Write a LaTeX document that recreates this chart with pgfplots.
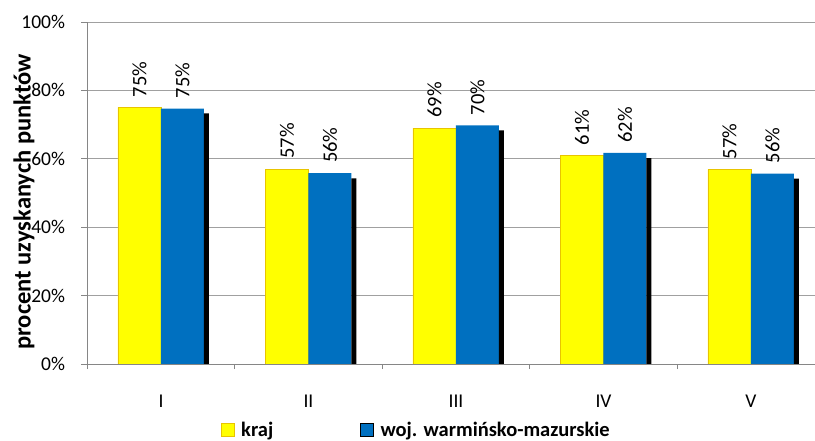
\documentclass[border=0pt]{standalone}
\usepackage{pgfplots}
\pgfplotsset{compat=1.18}
\usepackage{fontspec}
\setmainfont{Carlito}
\definecolor{ybar}{HTML}{FFFF00}
\definecolor{yedge}{HTML}{E8C400}
\definecolor{bbar}{HTML}{0070C0}
\definecolor{gridc}{HTML}{A0A0A0}
\definecolor{axc}{HTML}{868686}
\newcommand{\dl}{\fontsize{20.5bp}{24bp}\selectfont}
\begin{document}
\begin{tikzpicture}
\useasboundingbox (0,0) rectangle (815bp,441bp);
\begin{axis}[
  at={(87.25bp,77bp)}, anchor=south west,
  scale only axis, width=727.75bp, height=342bp,
  xmin=-0.5, xmax=4.434, ymin=0, ymax=100,
  axis x line*=bottom, axis y line*=left,
  axis line style={axc, line width=0.8bp},
  ybar,
  xtick={0,1,2,3,4},
  xticklabels={I,II,III,IV,V},
  minor xtick={-0.5,0.5,1.5,2.5,3.5},
  major x tick style={draw=none},
  minor x tick style={axc, line width=0.8bp},
  minor tick length=5bp,
  ytick={0,20,40,60,80,100},
  yticklabels={0\%,20\%,40\%,60\%,80\%,100\%},
  y tick style={axc, line width=0.8bp},
  major tick length=6bp,
  tick align=outside,
  ymajorgrids,
  grid style={gridc, line width=0.8bp},
  ticklabel style={font=\fontsize{19.5bp}{22bp}\selectfont},
  xticklabel style={inner sep=0pt, anchor=north, yshift=-25bp},
  yticklabel style={inner sep=0pt, anchor=east, xshift=-16bp},
  ylabel={\fontsize{24.5bp}{28bp}\selectfont\bfseries procent uzyskanych punktów},
  ylabel style={at={(axis description cs:-0.0869,0.474)}, anchor=center},
  nodes near coords style={yshift=10bp, rotate=90, anchor=west, inner sep=0pt},
  legend columns=2,
  legend style={draw=none, fill=none, at={(axis description cs:0.452,-0.193)}, anchor=center,
    font=\fontsize{20.5bp}{24bp}\selectfont\bfseries,
    /tikz/every odd column/.append style={column sep=5bp},
    /tikz/every even column/.append style={column sep=85bp}},
  legend image code/.code={\draw[#1] (-6bp,-6.5bp) rectangle (7bp,6.5bp);},
]
\addplot[fill=ybar, draw=yedge, line width=0.6bp, bar width=43bp, bar shift=-21.5bp,
  point meta=explicit symbolic, nodes near coords={\dl\pgfplotspointmeta\%}]
  coordinates {(0,75.0)[75] (1,57.0)[57] (2,69.0)[69] (3,61.0)[61] (4,56.9)[57]};
\addlegendentry{kraj}
\addplot[fill=bbar, draw=none, bar width=43bp, bar shift=21.5bp,
  point meta=explicit symbolic, nodes near coords={\dl\pgfplotspointmeta\%}]
  coordinates {(0,74.7)[75] (1,55.8)[56] (2,69.8)[70] (3,61.7)[62] (4,55.7)[56]};
\addlegendentry{woj. warmińsko-mazurskie}
\addplot[fill=black, draw=none, bar width=5bp, bar shift=45.5bp, forget plot]
  coordinates {(0,73.3) (1,54.3) (2,68.3) (3,60.2) (4,54.2)};
\end{axis}
\end{tikzpicture}
\end{document}
